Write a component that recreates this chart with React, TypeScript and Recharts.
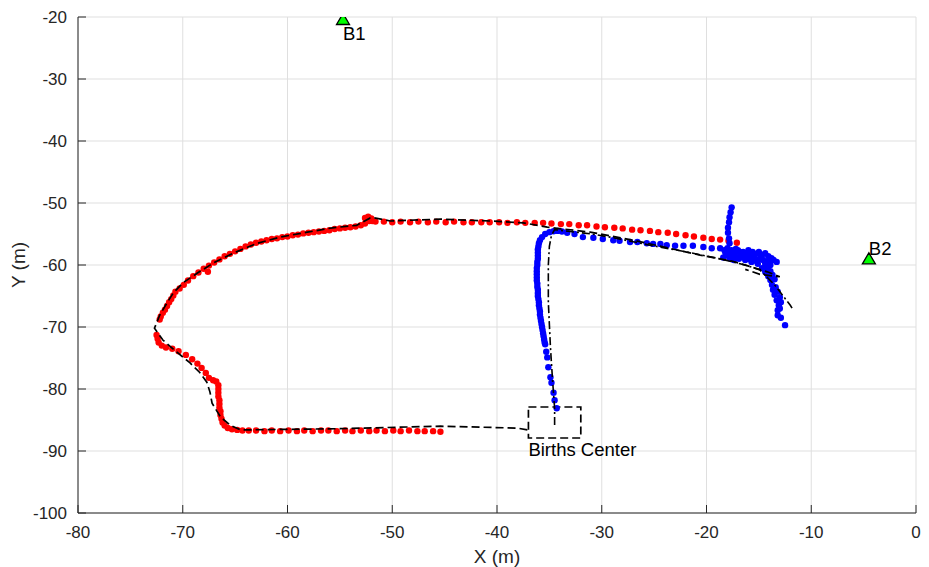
import React from 'react';
import { ScatterChart, Scatter, XAxis, YAxis, CartesianGrid, ReferenceArea } from 'recharts';

// estimated tracks (metres)
const redTrack: [number, number][] = [
  [-17.1, -56.4], [-17.9, -56.1], [-18.7, -55.9], [-19.5, -55.8], [-20.3, -55.6], [-21.2, -55.4],
  [-22.0, -55.2], [-22.9, -55.0], [-23.7, -54.8], [-24.6, -54.7], [-25.4, -54.5], [-26.3, -54.4],
  [-27.1, -54.3], [-28.0, -54.1], [-28.8, -54.0], [-29.7, -53.9], [-30.5, -53.8], [-31.4, -53.6],
  [-32.2, -53.6], [-33.1, -53.4], [-33.9, -53.4], [-34.8, -53.3], [-35.6, -53.2], [-36.4, -53.2],
  [-37.3, -53.2], [-38.1, -53.1], [-39.0, -53.2], [-39.8, -53.1], [-40.7, -53.1], [-41.5, -53.1],
  [-42.4, -53.1], [-43.2, -53.1], [-44.1, -53.0], [-44.9, -53.1], [-45.8, -53.0], [-46.6, -53.1],
  [-47.5, -53.0], [-48.3, -53.1], [-49.2, -53.0], [-50.0, -53.1], [-50.8, -53.0], [-51.6, -53.0],
  [-51.9, -52.9], [-52.0, -52.5], [-52.3, -52.2], [-52.6, -52.4], [-52.2, -52.9], [-52.6, -53.3],
  [-53.0, -53.6], [-53.5, -53.8], [-54.0, -53.9], [-54.5, -54.0], [-55.0, -54.1], [-55.5, -54.2],
  [-56.0, -54.4], [-56.5, -54.5], [-57.0, -54.6], [-57.5, -54.7], [-58.0, -54.8], [-58.5, -54.9],
  [-59.0, -55.1], [-59.5, -55.2], [-60.0, -55.4], [-60.5, -55.5], [-61.0, -55.7], [-61.5, -55.8],
  [-62.0, -56.0], [-62.5, -56.2], [-63.0, -56.4], [-63.5, -56.7], [-64.0, -57.0], [-64.5, -57.4],
  [-65.0, -57.8], [-65.5, -58.2], [-66.0, -58.6], [-66.5, -59.1], [-67.0, -59.6], [-67.5, -60.1],
  [-67.6, -61.1], [-68.0, -60.6], [-68.5, -61.2], [-69.0, -61.8], [-69.5, -62.5], [-69.9, -63.2],
  [-70.3, -63.8], [-70.7, -64.3], [-70.9, -64.9], [-71.1, -65.5], [-71.3, -66.0], [-71.5, -66.6],
  [-71.7, -67.2], [-71.9, -67.7], [-72.1, -68.3], [-72.2, -68.8],
  [-72.5, -71.3], [-72.4, -71.9], [-72.3, -72.5], [-72.0, -73.0], [-71.6, -73.3], [-71.0, -73.5],
  [-70.4, -73.9], [-69.7, -74.5], [-69.1, -75.2], [-68.6, -75.9], [-68.2, -76.6], [-67.8, -77.4],
  [-67.5, -78.2], [-67.1, -78.6], [-66.8, -78.8], [-66.6, -79.4], [-66.6, -80.0], [-66.6, -80.6],
  [-66.6, -81.2], [-66.5, -81.8], [-66.5, -82.4], [-66.5, -83.0], [-66.4, -83.6], [-66.4, -84.2],
  [-66.3, -84.8], [-66.2, -85.4], [-66.0, -85.9], [-65.7, -86.3], [-65.3, -86.5], [-64.8, -86.6],
  [-64.3, -86.7], [-63.7, -86.7], [-63.0, -86.7], [-62.2, -86.8], [-61.5, -86.7], [-60.7, -86.8],
  [-59.9, -86.7], [-59.1, -86.8], [-58.4, -86.7], [-57.6, -86.8], [-56.8, -86.7], [-56.1, -86.7],
  [-55.3, -86.8], [-54.5, -86.7], [-53.8, -86.8], [-53.0, -86.7], [-52.2, -86.8], [-51.5, -86.7],
  [-50.7, -86.8], [-49.9, -86.7], [-49.2, -86.8], [-48.4, -86.7], [-47.6, -86.8], [-46.9, -86.8],
  [-46.1, -86.8], [-45.4, -86.9],
];

const blueTrack: [number, number][] = [
  [-34.3, -83.1], [-34.5, -81.8], [-34.6, -80.6], [-34.8, -79.0], [-34.9, -78.1], [-35.1, -76.5],
  [-35.2, -74.9], [-35.3, -74.0], [-35.4, -72.8], [-35.45, -72.5], [-35.5, -72.0], [-35.55, -71.5],
  [-35.6, -71.0], [-35.65, -70.5], [-35.7, -70.0], [-35.75, -69.5], [-35.8, -69.0], [-35.85, -68.5],
  [-35.9, -68.0], [-35.9, -67.5], [-35.95, -67.0], [-36.0, -66.5], [-36.0, -66.0], [-36.05, -65.5],
  [-36.1, -65.0], [-36.1, -64.5], [-36.1, -64.0], [-36.15, -63.5], [-36.15, -63.0], [-36.2, -62.5],
  [-36.2, -62.0], [-36.2, -61.5], [-36.2, -61.0], [-36.2, -60.5], [-36.15, -60.0], [-36.15, -59.5],
  [-36.1, -59.0], [-36.1, -58.5], [-36.1, -58.0], [-36.1, -57.5], [-36.05, -57.0], [-36.0, -56.5],
  [-35.9, -56.0], [-35.7, -55.5], [-35.4, -55.0], [-35.0, -54.7], [-34.6, -54.55], [-34.2, -54.5],
  [-33.8, -54.6], [-33.3, -54.8], [-32.6, -55.0], [-31.8, -55.5], [-30.8, -55.6], [-29.9, -55.8],
  [-28.9, -56.0], [-28.3, -56.1], [-27.3, -56.3], [-26.6, -56.3], [-25.7, -56.5], [-25.1, -56.6],
  [-24.4, -56.6], [-23.8, -56.8], [-23.0, -56.9], [-22.2, -56.9], [-21.3, -56.9], [-20.3, -57.1],
  [-19.5, -57.3], [-18.7, -57.3],
  [-18.3, -57.6], [-18.1, -58.4], [-18.0, -57.3], [-17.9, -57.9], [-17.8, -58.9], [-17.6, -57.6],
  [-17.3, -58.2], [-17.3, -58.9], [-17.0, -57.6], [-16.8, -58.6], [-16.8, -57.9], [-16.5, -57.9],
  [-16.3, -59.2], [-16.2, -58.2], [-16.0, -57.6], [-15.9, -58.6], [-15.7, -59.5], [-15.6, -57.9],
  [-15.4, -58.9], [-15.3, -58.2], [-15.1, -59.8], [-15.0, -57.9], [-14.9, -59.0], [-14.7, -58.4],
  [-14.7, -60.5], [-14.4, -58.1], [-14.4, -61.1], [-14.3, -59.5], [-14.1, -58.6], [-14.1, -61.8],
  [-13.9, -60.0], [-13.9, -62.4], [-13.8, -58.9], [-13.75, -63.2], [-13.65, -64.0], [-13.6, -59.2],
  [-13.5, -64.8], [-13.3, -59.5], [-13.3, -65.7], [-13.1, -66.5], [-13.2, -67.3], [-13.2, -68.1],
  [-12.5, -69.7],
  [-18.2, -58.0], [-17.7, -58.4], [-17.2, -57.4], [-16.7, -58.3], [-16.4, -58.8], [-16.0, -58.2],
  [-15.8, -59.1], [-15.5, -58.5], [-15.2, -59.4], [-14.9, -58.2], [-14.6, -59.2], [-14.4, -59.8],
  [-14.2, -60.4], [-14.0, -59.3], [-13.9, -61.0], [-13.7, -61.6], [-13.5, -62.3], [-13.4, -63.6],
  [-13.2, -64.3], [-13.0, -65.2], [-12.9, -66.0], [-13.0, -67.0], [-12.9, -68.5], [-17.4, -59.2],
  [-16.9, -59.0], [-18.4, -58.8],
  [-17.6, -50.7], [-17.7, -51.5], [-17.8, -52.3], [-17.85, -53.1], [-17.95, -54.0], [-17.95, -54.8],
  [-17.85, -55.7], [-17.8, -56.5],
];

const redTruth: [number, number][] = [
  [-37.1, -86.6], [-38.1, -86.3], [-45.4, -86.0], [-55.0, -86.4], [-64.5, -86.6], [-65.5, -85.8],
  [-66.4, -84.5], [-67.2, -82.3], [-67.4, -80.5], [-67.7, -78.9], [-68.4, -77.3], [-69.3, -75.8],
  [-70.6, -74.0], [-71.9, -72.1], [-72.7, -70.2], [-72.2, -68.1], [-71.5, -66.1], [-70.9, -64.5],
  [-70.0, -62.9], [-68.6, -61.3], [-67.1, -59.7], [-65.2, -58.1], [-62.9, -56.5], [-60.7, -55.5],
  [-58.1, -54.7], [-55.7, -54.0], [-53.4, -53.6], [-52.1, -52.4], [-51.7, -52.4], [-50.2, -52.9],
  [-45.4, -52.6], [-40.7, -52.9], [-37.5, -53.2], [-35.2, -53.9], [-31.1, -54.7], [-27.0, -56.0],
  [-20.6, -58.4], [-17.5, -59.4], [-14.2, -61.1], [-13.0, -61.9], [-14.9, -61.5], [-16.3, -60.7],
];

const blueTruth: [number, number][] = [
  [-34.5, -85.8], [-34.5, -83.1], [-34.7, -78.5], [-34.9, -73.2], [-35.1, -66.0], [-35.1, -60.0],
  [-35.0, -57.0], [-34.8, -55.2], [-34.5, -54.3], [-31.0, -55.0], [-29.2, -55.5], [-25.4, -56.8],
  [-21.9, -57.9], [-19.0, -58.9], [-16.3, -60.0], [-14.9, -60.8], [-13.5, -63.2], [-12.0, -66.5],
  [-11.7, -67.3],
];

const birthsBoxX = [-37.0, -32.0];
const birthsBoxY = [-87.9, -82.9];
const birthsLabel = { name: 'Births Center', x: -37.0, y: -89.7 };

const beaconNames = ['B1', 'B2'];
const beaconX = [-54.7, -4.5];
const beaconY = [-20.4, -59.0];

const xTicks = [-80, -70, -60, -50, -40, -30, -20, -10, 0];
const yTicks = [-100, -90, -80, -70, -60, -50, -40, -30, -20];

const toPts = (arr: [number, number][]) => arr.map(([x, y]) => ({ x, y }));
const beacons = beaconNames.map((name, i) => ({ name, x: beaconX[i], y: beaconY[i] }));

const FONT = '"Liberation Sans", Arial, Helvetica, sans-serif';
const AXIS = '#262626';

const XTick = (props: any) => {
  const { x, y, payload } = props;
  return (
    <g>
      <line x1={x} x2={x} y1={y} y2={y - 8} stroke={AXIS} strokeWidth={1} />
      <text x={x} y={y + 25} textAnchor="middle" fontSize={17} fill={AXIS} fontFamily={FONT}>
        {payload.value}
      </text>
    </g>
  );
};

const YTick = (props: any) => {
  const { x, y, payload } = props;
  return (
    <g>
      <line x1={x} x2={x + 8} y1={y} y2={y} stroke={AXIS} strokeWidth={1} />
      <text x={x - 11} y={y} dy="0.36em" textAnchor="end" fontSize={17} fill={AXIS} fontFamily={FONT}>
        {payload.value}
      </text>
    </g>
  );
};

const dot = (color: string) => (props: any) =>
  <circle cx={props.cx} cy={props.cy} r={3.2} fill={color} />;

const noShape = () => <g />;

const labelDy: Record<string, number> = { B1: 21, B2: -4 };

const Beacon = (props: any) => {
  const { cx, cy, payload } = props;
  return (
    <g>
      <polygon
        points={`${cx},${cy - 6} ${cx - 6.5},${cy + 5} ${cx + 6.5},${cy + 5}`}
        fill="#00ff00"
        stroke="#000"
        strokeWidth={1.3}
      />
      <text x={cx} y={cy + labelDy[payload.name]} fontSize={18.5} fill="#000" fontFamily={FONT}>
        {payload.name}
      </text>
    </g>
  );
};

const TextMark = (props: any) => (
  <text x={props.cx} y={props.cy} dy="0.35em" fontSize={18.5} fill="#000" fontFamily={FONT}>
    {props.payload.name}
  </text>
);

const App: React.FC = () => (
  <div style={{ position: 'absolute', left: 0, top: 0, background: '#fff', fontFamily: FONT }}>
    <ScatterChart width={929} height={567} margin={{ top: 17, right: 13, bottom: 0, left: 0 }}>
      <CartesianGrid stroke="#dfdfdf" strokeWidth={1} />
      <XAxis
        type="number"
        dataKey="x"
        domain={[-80, 0]}
        ticks={xTicks}
        height={54}
        stroke={AXIS}
        tickLine={false}
        tickSize={0}
        tickMargin={0}
        tick={<XTick />}
        allowDataOverflow
        label={{ value: 'X (m)', position: 'insideBottom', offset: 4, fontSize: 19, fill: AXIS, fontFamily: FONT }}
      />
      <YAxis
        type="number"
        dataKey="y"
        domain={[-100, -20]}
        ticks={yTicks}
        width={78}
        stroke={AXIS}
        tickLine={false}
        tickSize={0}
        tickMargin={0}
        tick={<YTick />}
        allowDataOverflow
        label={{
          value: 'Y (m)',
          angle: -90,
          position: 'insideLeft',
          offset: 18,
          fontSize: 19,
          fill: AXIS,
          fontFamily: FONT,
          style: { textAnchor: 'middle' },
        }}
      />
      <ReferenceArea
        x1={birthsBoxX[0]}
        x2={birthsBoxX[1]}
        y1={birthsBoxY[0]}
        y2={birthsBoxY[1]}
        fill="none"
        fillOpacity={0}
        stroke="#000"
        strokeWidth={1.7}
        strokeDasharray="8 4"
      />
      <Scatter data={toPts(redTrack)} shape={dot('#ff0000')} isAnimationActive={false} />
      <Scatter data={toPts(blueTrack)} shape={dot('#0000ff')} isAnimationActive={false} />
      <Scatter
        data={toPts(redTruth)}
        line={{ stroke: '#000', strokeWidth: 1.7, strokeDasharray: '8 4', fill: 'none' }}
        shape={noShape}
        isAnimationActive={false}
      />
      <Scatter
        data={toPts(blueTruth)}
        line={{ stroke: '#000', strokeWidth: 1.6, strokeDasharray: '8 3 2 3', fill: 'none' }}
        shape={noShape}
        isAnimationActive={false}
      />
      <Scatter data={beacons} shape={<Beacon />} isAnimationActive={false} />
      <Scatter data={[birthsLabel]} shape={<TextMark />} isAnimationActive={false} />
    </ScatterChart>
  </div>
);

export default App;
